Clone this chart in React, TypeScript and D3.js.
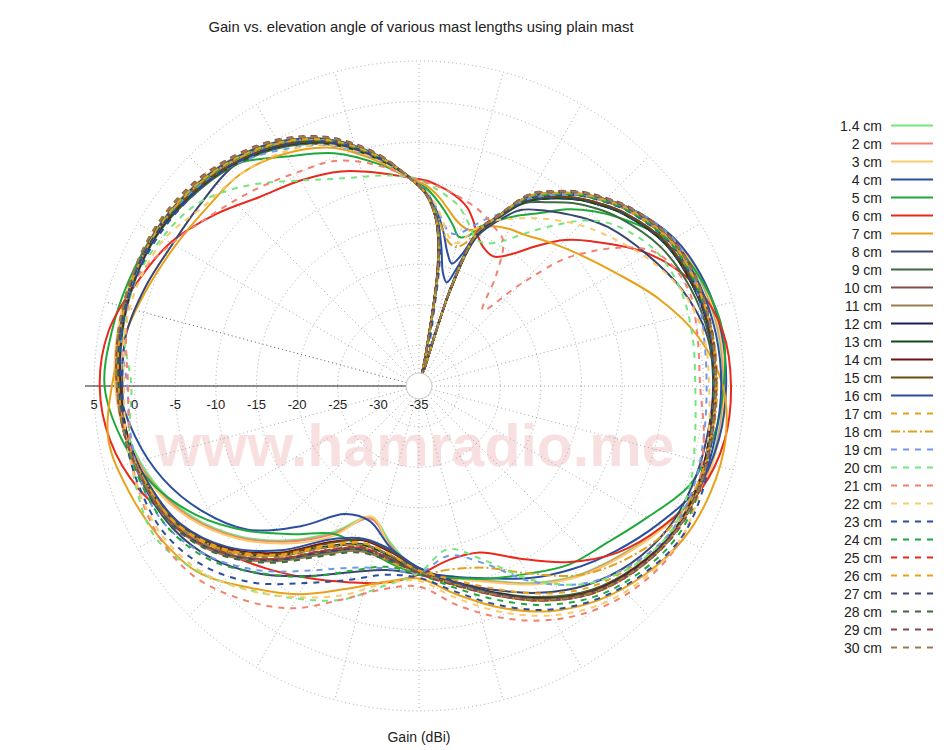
import React from 'react';
import * as d3 from 'd3';

// elevation angle (deg): 0 = left horizon, 90 = up, 180 = right horizon, 270 = down
const ANGLES = [0,10,20,30,40,50,60,70,80, 87,92,96,99,102,105,108,111,115, 120,125,130,135,140,150,160,170, 180,190,200,210,220,230,240,250,260,270, 280,290,300,310,320,330,340,350];

const RADIAL_TICKS = [5,0,-5,-10,-15,-20,-25,-30,-35];
const TITLE = 'Gain vs. elevation angle of various mast lengths using plain mast';
const AXIS_TITLE = 'Gain (dBi)';
const WATERMARK = 'www.hamradio.me';

const G_1_4 = [2.2,2.5,2.6,2.5,2.0,1.1,-0.5,-2.9,-6.5, -9.3,-11.2,-14.2,-19.5,-30,-33.5,-23,-15.2,-12.3, -8.6,-6.5,-4.4,-2.7,-1.2,1.0,2.0,2.4, 2.4,2.3,1.8,-0.4,-2.6,-4.6,-7.0,-9.5,-11.2,-12.1, -15.3,-17.8,-14.3,-10.2,-6.2,-2.8,-0.3,1.3];
const G_2 = [2.3,2.6,2.7,2.6,2.1,1.2,-0.4,-2.8,-6.4, -9.2,-11.2,-14.3,-19.8,-30.5,-33.5,-22.8,-15.0,-12.2, -8.4,-6.3,-4.3,-2.6,-1.1,1.1,2.1,2.5, 2.5,2.4,1.9,-0.3,-2.5,-4.5,-6.9,-9.4,-11.1,-12.0, -15.0,-17.6,-14.0,-10.0,-6.0,-2.6,-0.1,1.5];
const G_3 = [2.4,2.7,2.8,2.7,2.2,1.3,-0.3,-2.7,-6.3, -9.2,-11.1,-14.0,-19.0,-29.5,-33.5,-22.5,-14.9,-12.0, -8.3,-6.2,-4.2,-2.5,-1.0,1.2,2.2,2.6, 2.6,2.5,2.0,-0.2,-2.4,-4.4,-6.8,-9.3,-11.0,-11.9, -14.8,-17.9,-13.6,-9.7,-5.8,-2.4,0.1,1.6];
const G_4 = [2.0,2.4,2.6,2.6,2.0,1.1,-0.4,-2.8,-6.3, -9.1,-11.0,-13.5,-15.8,-18.2,-19.4,-18.0,-14.5,-11.9, -8.0,-6.0,-4.1,-2.5,-1.0,1.3,2.4,2.8, 2.8,2.5,1.5,-1.0,-3.4,-5.6,-7.7,-9.8,-11.2,-12.3, -14.8,-17.3,-16.8,-12.5,-7.5,-4.2,-1.5,0.5];
const G_5 = [3.7,3.4,3.0,2.6,2.0,0.6,-2.4,-4.5,-7.3, -9.3,-10.6,-12.2,-13.5,-14.8,-16.0,-15.6,-14.0,-12.6, -10.8,-9.0,-6.6,-4.6,-2.8,0.6,2.2,3.0, 2.5,1.8,0.5,-2.6,-4.9,-6.3,-8.3,-9.8,-11.0,-11.8, -13.0,-14.0,-14.0,-11.2,-7.3,-3.3,0.0,2.2];
const G_6 = [4.3,3.8,2.0,0.3,-2.2,-4.6,-5.8,-6.9,-8.4, -9.3,-9.7,-10.3,-10.8,-11.4,-12.2,-13.5,-15.0,-16.2, -16.6,-15.2,-12.5,-9.6,-7.3,-2.4,1.2,3.0, 3.4,3.2,2.0,-0.4,-3.1,-6.7,-10.5,-13.2,-13.3,-11.8, -10.4,-9.3,-7.7,-5.7,-3.4,-1.0,1.8,3.6];
const G_7 = [2.8,1.7,0.5,-0.4,-0.9,-0.9,-2.0,-3.8,-7.0, -9.3,-10.3,-11.6,-12.8,-13.9,-14.6,-14.8,-14.2,-13.3, -12.7,-12.3,-11.5,-10.6,-9.6,-7.1,-3.6,-0.1, 2.4,3.3,3.2,2.6,1.2,-0.6,-3.0,-6.0,-9.0,-11.3, -10.5,-8.4,-5.4,-2.6,0.6,2.0,3.0,3.8];
const G_8 = [1.5,1.6,0.8,0.0,0.0,0.4,-0.8,-3.0,-6.5, -9.2,-11.3,-14.4,-19.5,-30,-33.5,-23,-15.5,-12.8, -10.0,-8.6,-7.3,-5.9,-4.6,-2.6,-0.5,1.0, 1.2,1.0,0.8,0.3,-1.0,-3.0,-5.6,-8.3,-10.5,-11.8, -12.0,-10.6,-8.0,-4.8,-1.9,0.0,1.0,1.5];
const G_9 = [1.7,2.1,2.3,2.2,1.4,0.4,-1.1,-3.4,-6.7, -9.2,-11.3,-14.4,-19.8,-30.5,-33.5,-22.8,-15.0,-12.4, -9.0,-7.4,-5.6,-4.1,-2.8,-0.7,0.5,1.2, 1.3,1.3,1.4,1.0,-0.3,-2.2,-5.0,-8.0,-10.5,-12.1, -13.3,-13.6,-11.2,-6.9,-3.0,-0.4,0.7,1.4];
const G_10 = [1.9,2.3,2.6,2.5,2.0,1.0,-0.5,-2.9,-6.4, -9.2,-11.3,-14.5,-20.2,-31,-33.5,-22.4,-14.7,-12.0, -8.2,-6.2,-4.3,-2.8,-1.4,0.6,1.3,1.6, 1.5,1.5,1.6,1.2,0.0,-1.9,-4.7,-7.8,-10.3,-12.0, -13.5,-13.8,-11.5,-7.2,-3.2,-0.5,0.7,1.5];
const G_11 = [2.0,2.4,2.6,2.5,2.0,1.0,-0.5,-2.9,-6.4, -9.2,-11.4,-14.6,-20.5,-31.5,-33.5,-22.2,-14.6,-11.9, -8.2,-6.2,-4.3,-2.8,-1.4,0.6,1.3,1.6, 1.5,1.5,1.7,1.3,0.1,-1.7,-4.5,-7.6,-10.2,-12.0, -13.2,-13.4,-11.0,-6.8,-2.9,-0.3,0.9,1.6];
const G_12 = [1.8,2.2,2.4,2.3,1.6,0.6,-0.9,-3.2,-6.6, -9.2,-11.3,-14.6,-20.3,-31,-33.5,-22.6,-14.9,-12.2, -8.8,-6.8,-5.0,-3.5,-2.1,0.0,0.9,1.4, 1.3,1.3,1.5,1.1,-0.1,-2.0,-4.8,-7.9,-10.4,-12.2, -13.9,-14.3,-12.2,-7.8,-3.7,-0.8,0.5,1.4];
const G_13 = [1.9,2.3,2.5,2.4,1.6,0.6,-0.9,-3.2,-6.6, -9.2,-11.3,-14.5,-20,-31,-33.5,-22.5,-14.8,-12.1, -8.8,-6.8,-5.0,-3.5,-2.1,0.0,0.9,1.5, 1.4,1.4,1.6,1.2,0.0,-1.8,-4.6,-7.7,-10.2,-12.0, -13.8,-14.2,-12.1,-7.7,-3.6,-0.8,0.6,1.5];
const G_14 = [1.8,2.2,2.5,2.4,1.7,0.7,-0.8,-3.1,-6.5, -9.2,-11.3,-14.5,-20,-31,-33.5,-22.5,-14.8,-12.1, -8.6,-6.6,-4.8,-3.3,-1.9,0.2,1.0,1.4, 1.3,1.3,1.5,1.1,-0.2,-2.0,-4.8,-7.9,-10.6,-12.6, -14.3,-14.8,-12.8,-8.2,-4.0,-1.0,0.4,1.4];
const G_15 = [1.9,2.3,2.5,2.4,1.7,0.7,-0.8,-3.1,-6.5, -9.2,-11.3,-14.5,-20,-31,-33.5,-22.5,-14.8,-12.1, -8.6,-6.6,-4.8,-3.3,-1.9,0.2,1.1,1.5, 1.4,1.4,1.6,1.2,0.0,-1.9,-4.7,-7.8,-10.5,-12.5, -14.4,-14.9,-12.6,-8.0,-3.8,-0.9,0.5,1.5];
const G_16 = [2.0,2.4,2.6,2.6,2.1,1.2,-0.3,-2.7,-6.2, -9.1,-11.2,-14.0,-17.5,-20.8,-21.8,-19.5,-14.6,-12.0, -8.1,-6.1,-4.2,-2.7,-1.2,0.9,1.7,2.1, 2.2,2.0,1.8,1.2,0.0,-1.8,-4.6,-7.8,-10.5,-12.6, -14.6,-15.0,-13.2,-8.6,-4.2,-1.1,0.4,1.5];
const G_17 = [2.0,2.4,2.6,2.5,2.0,1.0,-0.5,-2.9,-6.4, -9.2,-11.3,-14.4,-19.5,-30,-33.5,-22.3,-14.7,-12.0, -8.2,-6.2,-4.3,-2.8,-1.4,0.6,1.4,1.7, 1.6,1.5,1.5,0.9,-0.6,-2.6,-5.5,-8.5,-10.8,-12.3, -14.0,-14.5,-12.4,-7.9,-3.8,-0.8,0.6,1.6];
const G_18 = [2.0,2.4,2.6,2.5,2.0,1.0,-0.5,-2.9,-6.4, -9.2,-11.2,-13.8,-15.8,-17.0,-17.3,-16.5,-14.2,-12.0, -8.2,-6.2,-4.3,-2.8,-1.4,0.7,1.4,1.7, 1.7,1.6,1.3,0.4,-1.8,-4.6,-8.4,-11.2,-12.1,-11.9, -13.2,-14.0,-12.0,-7.7,-3.6,-0.7,0.6,1.6];
const G_19 = [0.9,2.2,2.5,2.4,1.8,0.5,-1.4,-3.5,-6.8, -9.2,-11.0,-13.2,-15.0,-15.8,-15.5,-14.5,-13.2,-11.6, -8.5,-6.3,-4.2,-2.6,-1.0,1.2,1.2,0.6, 0.4,0.6,1.0,0.8,-0.8,-3.3,-7.2,-11.8,-13.8,-12.0, -12.2,-11.2,-8.8,-5.3,-2.0,0.4,1.2,1.0];
const G_20 = [0.4,1.8,2.2,1.5,0.2,-2.7,-5.8,-7.8,-8.7, -9.2,-10.0,-10.9,-11.5,-12.2,-13.3,-14.5,-15.6,-15.6, -14.4,-12.0,-9.2,-6.2,-4.0,-1.5,-0.7,-0.8, -1.0,-0.5,0.5,0.8,-0.6,-3.2,-7.5,-12.3,-14.6,-12.0, -10.0,-7.0,-4.8,-2.3,0.5,2.4,2.0,1.2];
const G_21 = [0.8,1.6,2.3,0.1,-2.0,-3.5,-4.7,-5.5,-7.5, -9.2,-9.9,-10.4,-10.8,-11.2,-11.6,-12.0,-12.5,-13.3, -14.3,-18.5,-22.8,-17.2,-10.0,-1.8,0.2,-0.2, -0.4,0.6,1.6,2.4,1.8,0.4,-1.8,-4.6,-7.6,-10.3, -9.6,-7.0,-3.4,-0.8,1.3,2.0,1.8,1.2];
const G_22 = [1.3,1.8,1.8,1.2,-0.5,-0.9,-1.7,-3.4,-6.8, -9.3,-11.0,-13.0,-15.0,-16.5,-16.8,-15.5,-13.8,-12.5, -11.2,-9.8,-8.4,-7.0,-5.7,-3.0,-0.6,0.6, 0.7,1.2,1.9,2.3,1.5,0.0,-2.4,-5.4,-8.5,-11.0, -10.3,-7.6,-5.0,-2.2,0.3,1.6,1.8,1.6];
const G_23 = [1.6,2.2,2.3,2.0,1.4,0.6,-0.8,-3.0,-6.5, -9.2,-11.2,-14.0,-18.5,-27,-30,-21.5,-14.8,-12.2, -8.4,-6.4,-4.4,-2.9,-1.5,0.5,1.2,1.4, 1.3,1.6,2.2,2.3,1.0,-0.8,-3.2,-6.3,-9.3,-11.4, -11.4,-9.6,-7.0,-3.4,-0.5,1.2,1.6,1.7];
const G_24 = [2.0,2.4,2.6,2.5,2.0,1.0,-0.5,-2.9,-6.4, -9.2,-11.2,-14.2,-19.5,-30,-33.5,-22.5,-14.8,-12.0, -8.2,-6.2,-4.3,-2.8,-1.4,0.6,1.3,1.5, 1.3,1.4,1.8,1.8,0.6,-1.2,-3.9,-7.0,-9.8,-11.8, -12.4,-10.8,-7.9,-4.9,-1.6,0.4,1.2,1.7];
const G_25 = [2.1,2.5,2.8,2.8,2.4,1.4,-0.1,-2.5,-6.1, -9.2,-11.3,-14.5,-20,-31,-33.5,-22.2,-14.5,-11.8, -7.8,-5.8,-3.9,-2.4,-1.0,1.0,1.6,1.6, 1.5,1.5,1.7,1.3,0.1,-1.7,-4.5,-7.6,-10.1,-11.9, -13.5,-13.8,-11.6,-7.2,-3.2,-0.4,0.8,1.7];
const G_26 = [2.1,2.5,2.7,2.6,2.1,1.1,-0.4,-2.8,-6.3, -9.2,-11.3,-14.5,-20,-31,-33.5,-22.4,-14.7,-12.0, -8.0,-6.0,-4.1,-2.6,-1.2,0.8,1.4,1.6, 1.5,1.5,1.7,1.3,0.1,-1.7,-4.5,-7.6,-10.2,-12.1, -14.0,-14.4,-12.2,-7.7,-3.6,-0.7,0.7,1.6];
const G_27 = [2.0,2.4,2.6,2.4,1.6,0.6,-0.9,-3.2,-6.6, -9.2,-11.3,-14.5,-20,-31,-33.5,-22.5,-14.8,-12.1, -8.8,-6.8,-5.0,-3.5,-2.1,0.0,0.9,1.5, 1.4,1.4,1.6,1.2,0.0,-1.8,-4.6,-7.7,-10.2,-12.0, -13.4,-13.6,-11.4,-7.0,-3.1,-0.4,0.8,1.6];
const G_28 = [2.1,2.5,2.7,2.8,2.4,1.4,-0.1,-2.5,-6.1, -9.2,-11.3,-14.5,-20,-31,-33.5,-22.4,-14.6,-11.9, -7.8,-5.8,-3.9,-2.4,-1.0,1.0,1.6,1.6, 1.5,1.5,1.7,1.3,0.0,-1.8,-4.6,-7.7,-10.2,-12.0, -13.2,-13.2,-10.8,-6.6,-2.8,-0.2,0.9,1.7];
const G_29 = [2.2,2.6,2.8,2.9,2.5,1.5,0.0,-2.4,-6.0, -9.2,-11.3,-14.5,-20,-31,-33.5,-22.3,-14.5,-11.8, -7.7,-5.7,-3.8,-2.3,-0.9,1.1,1.7,1.7, 1.6,1.6,1.8,1.4,0.1,-1.7,-4.5,-7.6,-10.2,-12.0, -13.6,-13.9,-11.6,-7.2,-3.2,-0.4,0.8,1.7];
const G_30 = [2.2,2.6,2.8,2.9,2.4,1.4,-0.1,-2.5,-6.1, -9.2,-11.3,-14.5,-20,-31,-33.5,-22.3,-14.6,-11.9, -7.8,-5.8,-3.9,-2.4,-1.0,1.0,1.6,1.6, 1.5,1.5,1.7,1.3,0.0,-1.8,-4.6,-7.7,-10.3,-12.2, -13.9,-14.2,-12.0,-7.5,-3.4,-0.6,0.8,1.7];

const NAMES = ['1.4 cm','2 cm','3 cm','4 cm','5 cm','6 cm','7 cm','8 cm','9 cm','10 cm','11 cm','12 cm','13 cm','14 cm','15 cm','16 cm','17 cm','18 cm','19 cm','20 cm','21 cm','22 cm','23 cm','24 cm','25 cm','26 cm','27 cm','28 cm','29 cm','30 cm'];
const VALUES = [G_1_4,G_2,G_3,G_4,G_5,G_6,G_7,G_8,G_9,G_10,G_11,G_12,G_13,G_14,G_15,G_16,G_17,G_18,G_19,G_20,G_21,G_22,G_23,G_24,G_25,G_26,G_27,G_28,G_29,G_30];
const COLORS = ['#74e67e','#f4806f','#f9cb6e','#2b4f9e','#1fa83c','#e8291c','#eaa11a','#3a4670','#3b6b40','#8b4a46','#9c7c4c','#14204f','#0f4a17','#6e1212','#6b4a14','#2b4f9e',
  '#eaa11a','#e0a020','#7098e8','#74e67e','#f4806f','#f9cb6e','#2b4f9e','#1fa83c','#e8291c','#eaa11a','#3a4670','#3b6b40','#8b4a46','#9c7c4c'];
const DASHES = ['','','','','','','','','','','','','','','','',
  '6,6','9,3,2,3','6,6','6,6','6,6','6,6','6,6','6,6','6,6','6,6','6,6','6,6','6,6','6,6'];

const FONT = "'Liberation Sans', Arial, Helvetica, sans-serif";

export default function App() {
  const cx = 419, cy = 386, R = 325;
  const r = d3.scaleLinear().domain([-35, 5]).range([0, R]);
  const toRad = (e: number) => ((e - 90) * Math.PI) / 180;
  const line = d3.lineRadial<number>()
    .angle((_d, i) => toRad(ANGLES[i]))
    .radius((d) => r(d))
    .curve(d3.curveCatmullRomClosed.alpha(0.5));
  const ringValues = RADIAL_TICKS.filter((v) => v > -35);
  const spokes = d3.range(0, 360, 15);

  return (
    <svg width={950} height={750} style={{ position: 'absolute', left: 0, top: 0, display: 'block', background: '#fff' }} fontFamily={FONT}>
      <rect x={0} y={0} width={950} height={750} fill="#ffffff" />
      <text x={cx - 4} y={465.5} textAnchor="middle" fontSize={59} fontWeight="bold" fill="#f9e0e0">{WATERMARK}</text>
      <g transform={`translate(${cx},${cy})`}>
        {ringValues.map((v) => (
          <circle key={'c' + v} r={r(v)} fill="none" stroke="#a8a8a8" strokeWidth={1} strokeDasharray="1,3" />
        ))}
        {spokes.map((e) => {
          const a = toRad(e);
          const dark = e === 15;
          return (
            <line key={'s' + e} x1={13 * Math.sin(a)} y1={-13 * Math.cos(a)} x2={R * Math.sin(a)} y2={-R * Math.cos(a)}
              stroke={dark ? '#555' : '#a8a8a8'} strokeWidth={1} strokeDasharray="1,3" />
          );
        })}
        <line x1={-13} y1={0} x2={-334} y2={0} stroke="#222" strokeWidth={1} />
        {VALUES.map((vals, i) => (
          <path key={NAMES[i]} d={line(vals) || ''} fill="none" stroke={COLORS[i]} strokeWidth={2}
            strokeDasharray={DASHES[i] || undefined} strokeLinejoin="round" />
        ))}
        <circle r={13} fill="#ffffff" stroke="#cccccc" strokeWidth={1} />
      </g>
      {RADIAL_TICKS.map((v) => (
        <text key={'t' + v} x={cx - r(v)} y={408.5} textAnchor="middle" fontSize={13} fill="#222">{v}</text>
      ))}
      <text x={421} y={32} textAnchor="middle" fontSize={14.8} fill="#222">{TITLE}</text>
      <text x={419} y={742} textAnchor="middle" fontSize={14} fill="#222">{AXIS_TITLE}</text>
      <g>
        {NAMES.map((n, i) => {
          const y = 125.5 + 18 * i;
          return (
            <g key={'l' + n}>
              <text x={882} y={y + 5} textAnchor="end" fontSize={14} fill="#222">{n}</text>
              <line x1={891} x2={933} y1={y} y2={y} stroke={COLORS[i]} strokeWidth={2} strokeDasharray={DASHES[i] || undefined} />
            </g>
          );
        })}
      </g>
    </svg>
  );
}
